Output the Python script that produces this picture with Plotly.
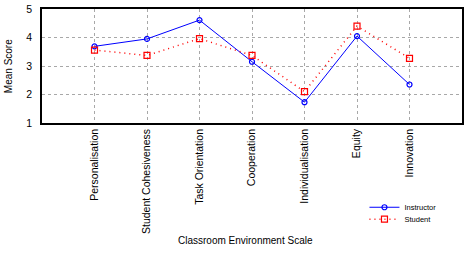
import plotly.graph_objects as go

categories = ["Personalisation", "Student Cohesiveness", "Task Orientation",
              "Cooperation", "Individualisation", "Equity", "Innovation"]
instructor = [3.69, 3.95, 4.61, 3.15, 1.73, 4.05, 2.35]
student = [3.56, 3.37, 3.96, 3.37, 2.10, 4.40, 3.27]
y_ticks = [1, 2, 3, 4, 5]

xpos = list(range(1, len(categories) + 1))

fig = go.Figure()
fig.add_trace(go.Scatter(
    x=xpos, y=instructor, name="Instructor", mode="lines+markers",
    line=dict(color="#0000ff", width=1),
    marker=dict(symbol="circle-open", size=5, color="#0000ff", line=dict(width=1.2)),
    legend="legend",
))
fig.add_trace(go.Scatter(
    x=xpos, y=student, name="Student", mode="lines+markers",
    line=dict(color="#ff0000", width=1.5, dash="1px,4px"),
    marker=dict(symbol="square-open", size=6, color="#ff0000", line=dict(width=1.2)),
    legend="legend2",
))

font_family = "Liberation Sans, Arial, sans-serif"
leg_common = dict(xanchor="left", yanchor="middle", bgcolor="rgba(0,0,0,0)",
                  font=dict(size=7.5), itemwidth=30)
plot_h = 253 - 8 - 130
fig.update_layout(
    width=467, height=253,
    margin=dict(l=42, r=3, t=8, b=130),
    paper_bgcolor="white", plot_bgcolor="white",
    font=dict(family=font_family, size=10, color="black"),
    showlegend=True,
    legend=dict(x=(366 - 42) / 422, y=(plot_h + 8 - 208) / plot_h, **leg_common),
    legend2=dict(x=(366 - 42) / 422, y=(plot_h + 8 - 220) / plot_h, **leg_common),
    xaxis=dict(
        range=[0, 8], tickmode="array", tickvals=xpos, ticktext=categories,
        tickangle=-90, showgrid=True, gridcolor="#a8a8a8", griddash="dot",
        gridwidth=1, showline=True, linecolor="black", linewidth=1.5,
        mirror=True, ticks="", zeroline=False, tickfont=dict(size=10.5),
    ),
    yaxis=dict(
        range=[1, 5], tickmode="array", tickvals=y_ticks,
        showgrid=True, gridcolor="#a8a8a8", griddash="dot", gridwidth=1,
        showline=True, linecolor="black", linewidth=1.5, mirror=True,
        ticks="", zeroline=False, tickfont=dict(size=10.5),
        ticklabelstandoff=6,
    ),
    annotations=[
        dict(text="Classroom Environment Scale", xref="paper", yref="paper",
             x=(246 - 42) / 422, y=(plot_h + 8 - 242) / plot_h,
             xanchor="center", yanchor="middle",
             showarrow=False, font=dict(size=10)),
        dict(text="Mean Score", xref="paper", yref="paper",
             x=(8 - 42) / 422, y=0.5, xanchor="center", yanchor="middle",
             textangle=-90, showarrow=False, font=dict(size=10)),
    ],
)

fig.write_html("out.html")
